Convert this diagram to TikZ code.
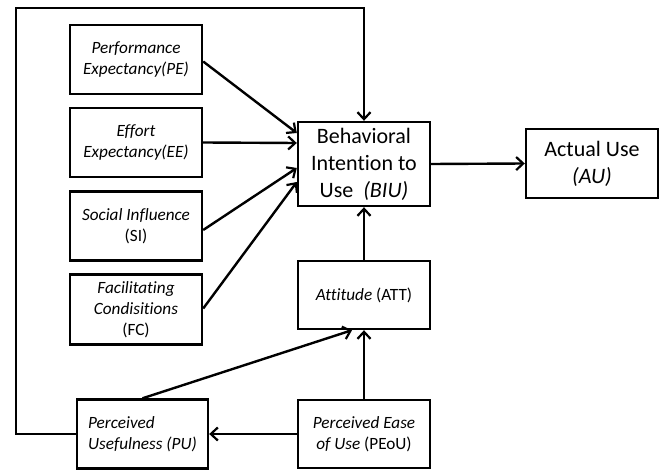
\documentclass[tikz,border=0pt]{standalone}
\usepackage{fontspec}
\setmainfont[Ligatures={NoCommon}]{Carlito}
\usetikzlibrary{arrows.meta}
\begin{document}
\begin{tikzpicture}[x=1pt,y=-1pt,
  box/.style={draw, line width=2.4pt, minimum width=132pt, minimum height=69pt, align=center, inner sep=1pt, font=\fontsize{17.2}{21}\selectfont},
  bigbox/.style={box, minimum height=84pt, font=\fontsize{22}{27}\selectfont},
  conn/.style={line width=2.4pt, -{Straight Barb[length=7pt,width=13pt,line width=2.2pt]}}]
\useasboundingbox (0,0) rectangle (663,470);
\node[box] (PE) at (136,59.5) {\textit{Performance}\\\textit{Expectancy(PE)}};
\node[box] (EE) at (136,142.5) {\textit{Effort}\\\textit{Expectancy(EE)}};
\node[box] (SI) at (136,226) {\textit{Social Influence}\\(SI)};
\node[box, minimum height=70pt] (FC) at (136,309.5) {\textit{Facilitating}\\\textit{Condisitions}\\(FC)};
\node[bigbox] (BIU) at (364,164) {Behavioral\\Intention to\\Use\ \ \textit{(BIU)}};
\node[box, font=\fontsize{22}{27}\selectfont] (AU) at (592,163.5) {Actual Use\\\textit{(AU)}};
\node[box, minimum height=68pt] (ATT) at (364,295) {\textit{Attitude} (ATT)};
\node[box, minimum width=131pt, align=left] (PU) at (142.5,434) {\textit{Perceived}\\\textit{Usefulness (PU)}};
\node[box, minimum height=68pt] (PEOU) at (364,434) {\textit{Perceived Ease}\\\textit{of Use} (PEoU)};
\draw[conn] ([yshift=-2pt]PE.east) -- ([yshift=31pt]BIU.west);
\draw[conn] (EE.east) -- ([yshift=21pt]BIU.west);
\draw[conn] ([yshift=-4pt]SI.east) -- ([yshift=-4pt]BIU.west);
\draw[conn] ([yshift=1pt]FC.east) -- ([yshift=-18pt]BIU.west);
\draw[conn] (BIU.east) -- (AU.west);
\draw[conn] (ATT.north) -- (BIU.south);
\draw[conn] (PEOU.north) -- (ATT.south);
\draw[conn] (PU.north) -- ([xshift=-12pt]ATT.south);
\draw[conn] (PEOU.west) -- (PU.east);
\coordinate (c1) at (16,434);
\coordinate (c2) at (16,8);
\coordinate (c3) at (364,8);
\draw[conn] (PU.west) -- (c1) -- (c2) -- (c3) -- (BIU.north);
\end{tikzpicture}
\end{document}
